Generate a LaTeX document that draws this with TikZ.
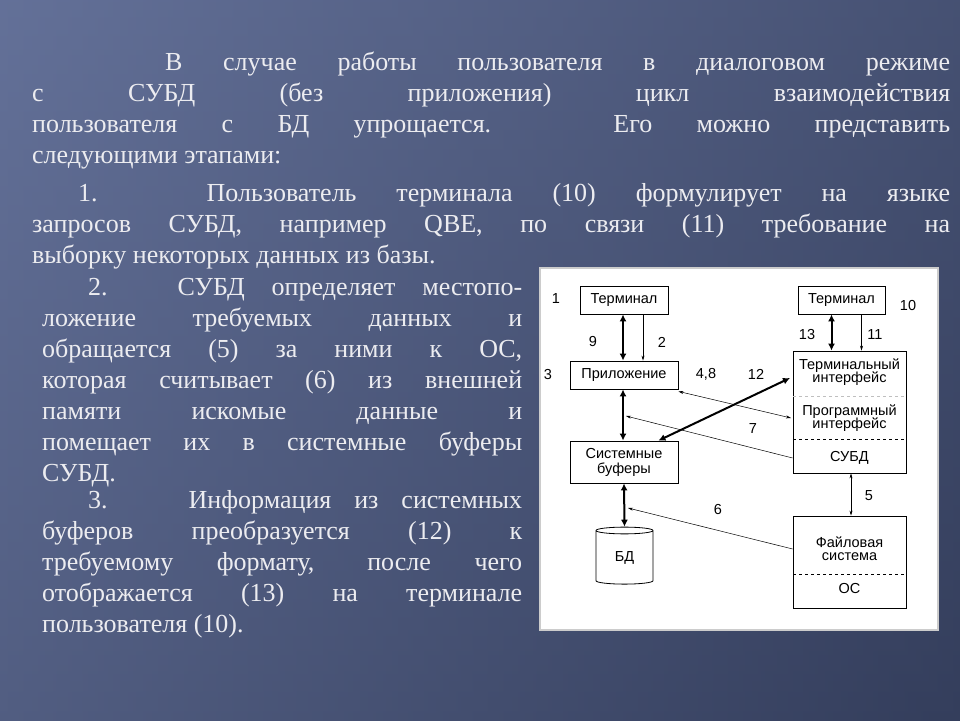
\documentclass[tikz,border=0pt]{standalone}
\usepackage{fontspec}
\setmainfont{Liberation Serif}
\setsansfont{Liberation Sans}
\usetikzlibrary{arrows.meta,positioning,shapes.geometric}
\definecolor{bgA}{RGB}{112,126,168}
\definecolor{bgB}{RGB}{52,62,92}
\definecolor{slidetext}{RGB}{236,236,240}
\begin{document}
\begin{tikzpicture}[x=1pt, y=-1pt,
    para/.style = {anchor = north west, inner sep = 0pt, align = justify,
                   text = slidetext, font = \fontsize{26}{31}\selectfont},
    box/.style = {draw, thick, font = \sffamily\fontsize{14.5}{15}\selectfont, align = center, inner sep = 0pt},
    lbl/.style = {font = \sffamily\fontsize{14.5}{15}\selectfont},
    fat/.style = {draw, line width = 2pt, {Latex[length=7pt,width=7pt]}-{Latex[length=7pt,width=7pt]}},
    thin/.style = {draw, line width = 0.5pt, -{Stealth[length=5pt,width=3pt]}},
]
\useasboundingbox (0,0) rectangle (960,720);
\shade[left color = bgA, right color = bgB] (0,0) rectangle (960,720);
\shade[top color = bgA!60!bgB, bottom color = bgB, opacity = 0.5] (0,0) rectangle (960,720);

% slide text
\node (p0) [para, text width = 918pt] at (32,52)
  {\hspace*{133pt}В случае работы пользователя в диалоговом режиме\linebreak
   с СУБД (без приложения) цикл взаимодействия\linebreak
   пользователя с БД упрощается. Его можно представить\linebreak
   следующими этапами:};
\node (p1) [para, text width = 918pt] at (32,183)
  {\hspace*{46pt}1. Пользователь терминала (10) формулирует на языке\linebreak
   запросов СУБД, например QBE, по связи (11) требование на\linebreak
   выборку некоторых данных из базы.};
\node (p2) [para, text width = 480pt] at (42,278)
  {\hspace*{46pt}2. СУБД определяет местопо-\linebreak
   ложение требуемых данных и\linebreak
   обращается (5) за ними к ОС,\linebreak
   которая считывает (6) из внешней\linebreak
   памяти искомые данные и\linebreak
   помещает их в системные буферы\linebreak
   СУБД.};
\node (p3) [para, text width = 480pt] at (42,490)
  {\hspace*{46pt}3. \ Информация из системных\linebreak
   буферов преобразуется (12) к\linebreak
   требуемому формату, после чего\linebreak
   отображается (13) на терминале\linebreak
   пользователя (10).};

% diagram
\draw[fill = white, draw = gray!40, line width = 1.5pt] (540,268) rectangle (938,630);

\node (termL) [box, minimum width = 88pt, minimum height = 28pt] at (624,300) {Терминал};
\node (app) [box, minimum width = 108pt, minimum height = 28pt] at (624,375) {Приложение};
\node (buf) [box, minimum width = 108pt, minimum height = 42pt] at (624,462) {Системные\\буферы};
\node (db) [draw, thick, cylinder, shape border rotate = 90, aspect = 0.35,
            minimum width = 57pt, minimum height = 57pt, inner sep = 0pt,
            font = \sffamily\fontsize{14.5}{15}\selectfont] at (624.5,557.5) {БД};

\node (termR) [box, minimum width = 87pt, minimum height = 28pt] at (841.5,300) {Терминал};
\node (dbms) [box, minimum width = 113pt, minimum height = 122pt] at (849.5,412) {};
\node (ti) [lbl, align = center] at (849.5,372) {Терминальный\\[-2pt]интерфейс};
\node (pi) [lbl, align = center] at (849.5,418) {Программный\\[-2pt]интерфейс};
\node (subd) [lbl] at (849.5,458) {СУБД};
\draw[dashed, gray!50] (793,396) -- (906,396);
\draw[dashed, thick] (793,439) -- (906,439);

\node (os) [box, minimum width = 113pt, minimum height = 92pt] at (849.5,562) {};
\node (fs) [lbl, align = center] at (849.5,549) {Файловая\\[-2pt]система};
\node (osl) [lbl] at (849.5,588) {ОС};
\draw[dashed, thick] (793,574) -- (906,574);

\coordinate (e12) at (790,378);
\coordinate (e48) at (791,418);
\coordinate (e7) at (626,416);
\coordinate (e6) at (628,508);

% connectors
\path[fat] ([xshift=-1pt]termL.south) -- ([xshift=-1pt]termL.south |- app.north);
\path[thin] ([xshift=19pt]termL.south) -- ([xshift=19pt]termL.south |- app.north);
\path[fat] ([xshift=-1pt]app.south) -- ([xshift=-1pt]app.south |- buf.north);
\path[fat] (buf.south) -- (db.north);
\path[fat] ([xshift=-20pt]buf.north east) -- (e12);
\path[thin, {Stealth[length=5pt,width=3pt]}-{Stealth[length=5pt,width=3pt]}] ([yshift=-2pt]app.south east) -- (e48);
\path[thin] (dbms.west |- subd) -- (e7);
\path[thin] (os.west |- fs) -- (e6);
\path[fat] ([xshift=-10pt]termR.south) -- ([xshift=-10pt]termR.south |- dbms.north);
\path[thin] ([xshift=20pt]termR.south) -- ([xshift=20pt]termR.south |- dbms.north);
\path[thin, {Stealth[length=5pt,width=3pt]}-{Stealth[length=5pt,width=3pt]}] ([xshift=1.5pt]dbms.south) -- ([xshift=1.5pt]os.north);

% labels
\node (n1) [lbl] at (556,299) {1};
\node (n9) [lbl] at (593,342) {9};
\node (n2) [lbl] at (662,342) {2};
\node (n3) [lbl] at (548,375) {3};
\node (n48) [lbl] at (706,374) {4,8};
\node (n12) [lbl] at (756,374) {12};
\node (n7) [lbl] at (753,429) {7};
\node (n6) [lbl] at (718,509) {6};
\node (n10) [lbl] at (908,306) {10};
\node (n13) [lbl] at (807,335) {13};
\node (n11) [lbl] at (875,335) {11};
\node (n5) [lbl] at (869,496) {5};
\end{tikzpicture}
\end{document}
